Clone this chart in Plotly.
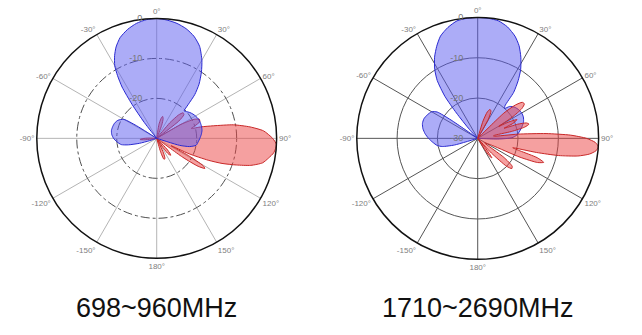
import plotly.graph_objects as go

# ---- 698~960MHz pattern (dB vs. azimuth in degrees) ----
blue_low_theta = [-180, -112, -108, -106, -103, -100, -95, -90, -85, -80, -75, -70, -65,
                  -60, -58, -56, -40, -38, -36, -34, -32, -30, -27, -24, -20, -15, -10,
                  -5, 0, 5, 10, 15, 20, 25, 30, 34, 38, 41, 43, 45, 48, 52, 56, 60, 65,
                  70, 75, 80, 85, 90, 95, 100, 104, 107, 110, 180]
blue_low_db = [-30, -30, -28, -25.5, -22.8, -21, -20, -19.2, -18.7, -18.5, -18.6, -18.8, -19.3,
               -20.5, -24, -30, -30, -25, -19.5, -14.5, -11.5, -9, -6.8, -5, -3.2, -1.8, -0.8,
               -0.2, 0, -0.3, -0.8, -1.6, -2.8, -4.6, -7.4, -10, -12.8, -15.5, -18.5, -20.3, -20,
               -19.5, -19.1, -18.8, -18.5, -18.4, -18.4, -18.5, -18.8, -19.2, -19.6, -20, -21.5,
               -24, -30, -30]

red_low_theta = [-180, -100, -97, -94, -91, -88, -86,
                 6, 9, 12, 15, 18, 21, 24,
                 37, 40, 43, 46, 49, 52, 55,
                 57, 60, 63, 66, 69, 72, 74,
                 75.5, 77.5, 80, 83, 86, 90, 93, 97, 100, 103, 106, 108.5, 111, 113, 115.5,
                 117, 118.5, 120.5, 122, 124, 126, 128,
                 134, 137, 140, 143, 146, 149,
                 152, 155, 158, 161, 164, 167, 180]
red_low_db = [-30, -30, -27, -25.8, -26.5, -28, -30,
              -30, -26.5, -25, -24.3, -24.8, -26.5, -30,
              -30, -25, -22, -20.8, -21, -23, -30,
              -30, -23, -19.5, -18.3, -18.5, -20, -21,
              -18.5, -15.5, -10.5, -6.5, -3.2, -1, 0, -0.5, -1.6, -2.8, -5.5, -9, -12.5, -16,
              -21, -26, -21, -16.5, -15.8, -17.5, -22, -30,
              -30, -26, -24.5, -25, -27, -30,
              -30, -26, -24.5, -24.5, -26.5, -30, -30]

# ---- 1710~2690MHz pattern ----
blue_high_theta = [-180, -109, -106, -103, -100, -95, -90, -85, -80, -75, -70, -65, -60, -57,
                   -55.5, -54, -46, -43, -40, -38, -35, -32, -28, -24, -20, -15, -10, -5, 0,
                   5, 10, 15, 20, 24, 28, 32, 35, 38, 40, 42, 45, 50, 55, 60, 65, 70, 75, 80,
                   85, 89, 92, 95, 180]
blue_high_db = [-30, -30, -24, -21, -19.8, -18.8, -17.8, -16.9, -16.2, -15.8, -15.8, -16.2,
                -16.8, -18, -22, -30, -30, -27, -21.8, -16.8, -12.5, -9.9, -7.2, -5, -3, -1.5,
                -0.4, -0.1, 0, -0.1, -0.4, -1.4, -3, -4.8, -7.2, -9.9, -12.5, -15.5, -19.5,
                -20, -18.8, -18, -17.6, -17.4, -17.5, -17.9, -18.6, -19.4, -20.2, -21.5, -25,
                -30, -30]

red_high_theta = [-180, 14, 17, 20, 23, 26, 29, 32,
                  43, 46, 48.5, 51, 53.5, 56, 58.5, 60.5,
                  62, 64.5, 67, 69,
                  70.5, 72.5, 74.5, 76.5, 78.5, 80.5,
                  82, 84, 86, 88, 90, 92, 94, 96, 98, 100, 102, 103.5, 105,
                  106.5, 108, 110, 112, 114, 116,
                  123, 126, 129, 131.5, 134, 137, 140,
                  141, 144, 147, 150, 180]
red_high_db = [-30, -30, -25.5, -23, -22.2, -22.5, -24.5, -30,
               -30, -21, -17.5, -15.8, -15.6, -16.8, -20, -24,
               -21.5, -19.2, -20.5, -23,
               -19.5, -17.3, -16.8, -18, -21.5, -26,
               -26, -20, -13, -7, -3, -0.8, 0, -0.5, -2, -4.8, -9.5, -15, -21,
               -19, -14.5, -12.6, -14, -18.5, -26,
               -28, -22, -19, -18.7, -20, -25, -30,
               -27, -24, -25, -30, -30]

angle_ticks = [0, 30, 60, 90, 120, 150, 180, 210, 240, 270, 300, 330]
angle_labels = ["0°", "30°", "60°", "90°", "120°", "150°", "180°",
                "-150°", "-120°", "-90°", "-60°", "-30°"]
db_ticks = [-30, -20, -10, 0]
db_labels_low = ["", "-20", "-10", "0"]
db_labels_high = ["-30", "-20", "-10", "0"]
band_titles = ["698~960MHz", "1710~2690MHz"]

BLUE_FILL = "rgba(90,90,240,0.5)"
BLUE_LINE = "#2a2ad0"
RED_FILL = "rgba(235,65,65,0.5)"
RED_LINE = "#c82828"
PAD = "\u00a0" * 5  # keeps the dB labels just left of the 0° spoke


def lobe(theta, r, fill, line, subplot):
    return go.Scatterpolar(
        theta=theta, r=r, mode="lines", fill="toself", fillcolor=fill,
        line=dict(color=line, width=1, shape="spline", smoothing=0.6),
        subplot=subplot, showlegend=False, hoverinfo="skip",
    )


fig = go.Figure()
fig.add_trace(lobe(red_low_theta, red_low_db, RED_FILL, RED_LINE, "polar"))
fig.add_trace(lobe(blue_low_theta, blue_low_db, BLUE_FILL, BLUE_LINE, "polar"))
fig.add_trace(lobe(blue_high_theta, blue_high_db, BLUE_FILL, BLUE_LINE, "polar2"))
fig.add_trace(lobe(red_high_theta, red_high_db, RED_FILL, RED_LINE, "polar2"))


def polar_layout(domain_x, domain_y, labels, grid_color, circle_color, circle_dash):
    return dict(
        domain=dict(x=domain_x, y=domain_y),
        bgcolor="white",
        radialaxis=dict(
            range=[-30, 0], tickvals=db_ticks, ticktext=[t + PAD for t in labels],
            angle=90, tickangle=90, side="counterclockwise", showline=False, ticks="",
            gridcolor=circle_color, griddash=circle_dash, gridwidth=1,
            tickfont=dict(family="Liberation Sans, Arial", size=9, color="#777777"),
        ),
        angularaxis=dict(
            rotation=90, direction="clockwise", tickmode="array",
            tickvals=angle_ticks, ticktext=angle_labels, ticks="",
            showline=True, linecolor="#111111", linewidth=1.5,
            gridcolor=grid_color, gridwidth=1,
            tickfont=dict(family="Liberation Sans, Arial", size=8, color="#808080"),
        ),
    )


fig.update_layout(
    width=642, height=335,
    margin=dict(l=0, r=0, t=0, b=0),
    paper_bgcolor="white",
    polar=polar_layout([0.0572, 0.431], [0.229, 0.945], db_labels_low,
                       "#b4b4b4", "#505050", "dashdot"),
    polar2=polar_layout([0.5556, 0.9326], [0.226, 0.948], db_labels_high,
                        "#555555", "#555555", "solid"),
)

for x_center, text in zip([0.244, 0.744], band_titles):
    fig.add_annotation(
        x=x_center, y=0.0815, xref="paper", yref="paper", text=text,
        showarrow=False, xanchor="center", yanchor="middle",
        font=dict(family="Liberation Sans, Arial", size=27, color="#111111"),
    )

fig.write_html("out.html")
